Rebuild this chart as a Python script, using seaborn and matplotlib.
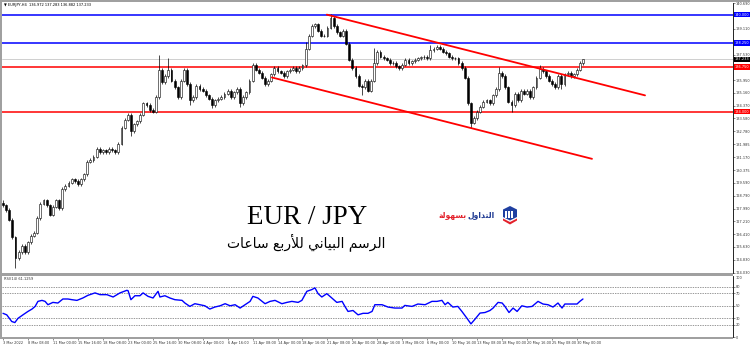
import matplotlib
matplotlib.use("Agg")
import matplotlib.pyplot as plt
import matplotlib.transforms as mtransforms
from matplotlib.patches import Polygon, Rectangle
import numpy as np
import pandas as pd
import seaborn as sns

W, H = 750, 346
sns.set_style("white")
plt.rcParams['font.family'] = ['DejaVu Sans']

# ---------------- data ----------------
closes = [128.2, 127.9, 127.3, 126.2, 124.9, 125.3, 125.7, 125.3, 125.9, 126.3,
          126.5, 127.4, 128.3, 128.5, 128.2, 127.6, 128.1, 128.5, 128.0, 129.2,
          129.4, 129.6, 129.8, 129.7, 129.5, 129.8, 130.1, 130.9, 131.0, 131.2,
          131.7, 131.5, 131.6, 131.5, 131.7, 131.6, 131.5, 132.0, 133.0, 133.5,
          133.8, 132.8, 133.2, 133.4, 133.8, 134.5, 134.4, 134.1, 134.0, 134.9,
          136.6, 135.8, 136.2, 136.6, 135.9, 135.5, 134.9, 135.9, 136.6, 135.7,
          134.7, 134.9, 135.6, 135.4, 135.3, 135.0, 134.8, 134.4, 134.7, 134.8,
          134.9, 135.1, 135.3, 134.9, 135.2, 135.4, 134.5, 134.9, 135.2, 135.9,
          136.9, 136.6, 136.4, 136.1, 135.7, 135.9, 136.3, 136.7, 136.5, 136.4,
          136.2, 136.5, 136.6, 136.7, 136.5, 136.7, 136.85, 137.9, 138.7, 139.3,
          139.4, 139.0, 138.7, 138.7, 139.2, 139.8, 139.3, 138.9, 138.7, 139.0,
          138.2, 137.2, 136.7, 136.2, 135.6, 135.5, 135.9, 135.3, 135.9, 137.0,
          137.7, 137.4, 137.3, 137.2, 137.0, 137.0, 136.8, 136.7, 136.9, 137.2,
          137.0, 137.1, 137.2, 137.3, 137.35, 137.4, 137.3, 137.8, 137.9, 138.0,
          137.9, 137.7, 137.6, 137.4, 137.3, 137.3, 137.0, 136.7, 136.1, 134.5,
          133.3, 133.6, 134.0, 134.3, 134.6, 134.7, 134.5, 135.0, 135.4, 136.4,
          136.2, 135.5, 134.6, 134.4, 135.1, 134.7, 135.3, 135.1, 135.3, 134.9,
          135.5, 136.1, 136.65, 136.5, 136.2, 135.9, 135.7, 135.5, 136.2, 135.7,
          136.3, 136.4, 136.2, 136.3, 136.6, 137.0, 137.23]
first_open = 128.35
hi_idx = [0, 50, 53, 97, 105, 119, 137, 159, 172, 186]
hi_val = [128.5, 137.5, 137.3, 138.3, 140.05, 137.95, 138.1, 136.75, 136.85, 137.28]
lo_idx = [4, 41, 60, 67, 76, 115, 150, 163, 179]
lo_val = [124.3, 132.5, 134.4, 134.2, 134.3, 135.0, 133.0, 134.0, 135.4]
WICK = 0.1

levels_blue = [140.000, 138.250]
levels_red = [136.750, 134.000]
bid_price = 137.233

trend_upper_x = [103.8, 205.8]
trend_upper_y = [140.0, 135.0]
trend_lower_x = [86.2, 188.8]
trend_lower_y = [136.11, 131.07]

price_ticks = [124.030, 124.830, 125.630, 126.410, 127.210, 127.990, 128.790,
               129.590, 130.375, 131.170, 131.985, 132.780, 133.580, 134.370,
               135.160, 135.950, 137.530, 139.110, 140.690]

rsi_idx = [0, 1.2, 2.8, 3.8, 4.8, 6.4, 8, 9.3, 10.3, 11.2,
           12.5, 13.5, 14.4, 16, 17.6, 19.2, 20.8, 22.1, 23.7, 25.6,
           27.2, 29.5, 31.1, 33.3, 35.3, 37.5, 39.7, 40.1, 41, 42.3,
           43.9, 44.9, 46.5, 48.1, 49.7, 50.3, 51.9, 53.5, 55.1, 57.4,
           58.3, 59.9, 61.5, 63.1, 64.7, 66.3, 67.9, 69.6, 71.2, 72.8,
           74.4, 76, 77.6, 79.2, 80.1, 81.7, 84, 85.6, 87.2, 89.4,
           91, 92.6, 94.6, 95.8, 97.4, 99, 100, 101, 102.2, 103.8,
           105.4, 107, 108.7, 109.6, 110.6, 112.2, 113.8, 115.4, 117, 118.3,
           119.2, 121.5, 123.4, 125.6, 127.9, 128.8, 131.1, 133, 135.3, 137.5,
           139.1, 140.7, 141.7, 142.6, 144.2, 145.8, 147.1, 148.7, 150, 151.3,
           152.9, 154.5, 156.1, 157.1, 158.7, 160, 160.9, 162.2, 163.5, 164.8,
           166.3, 168, 169.6, 171.5, 173.1, 174.7, 176.3, 177.9, 179.2, 180.1,
           182.4, 184, 184.9, 185.9]
rsi_val = [38, 35.6, 25, 23.3, 30, 35.6, 41, 44.8, 49, 57,
           58.6, 57, 51.7, 55.4, 54.4, 60.8, 60.8, 59.7, 58.6, 62.4,
           66.6, 70.5, 67.7, 67.7, 64, 70.5, 74.6, 74, 59.7, 66,
           66, 70.5, 65, 62.4, 73, 64, 66, 62.4, 59.7, 58.6,
           54.4, 49, 53.3, 51.7, 50, 44.8, 48, 50, 53.3, 50,
           51.7, 46.4, 51.7, 57, 65, 62.4, 53.3, 57, 58.6, 53.3,
           55.4, 57, 55.4, 58.6, 73, 75.8, 78.5, 69.3, 64, 69.3,
           62.4, 55.4, 57, 49, 41, 42.5, 35.6, 38, 38, 41,
           51.7, 51.7, 48, 46.4, 46.4, 50.6, 49, 52.8, 51.7, 57,
           57, 58.6, 51.7, 55.4, 48, 49, 41, 30.3, 21.2, 28.7,
           38.4, 39.3, 42.5, 46.4, 55.4, 54.4, 49, 39.3, 46.4, 41,
           50, 48, 49, 57, 52.8, 51.7, 48, 54.4, 46.4, 52.8,
           52.8, 52.8, 57, 60.8]
rsi_levels = [80, 70, 50, 30, 20]
rsi_tick_vals = [0, 20, 30, 50, 70, 80]

date_idx = list(range(0, 185, 8))
date_labels = ["3 Mar 2022", "8 Mar 08:00", "11 Mar 00:00", "15 Mar 16:00",
               "18 Mar 08:00", "23 Mar 00:00", "25 Mar 16:00", "30 Mar 08:00",
               "4 Apr 00:00", "6 Apr 16:00", "11 Apr 08:00", "14 Apr 00:00",
               "18 Apr 16:00", "21 Apr 08:00", "26 Apr 00:00", "28 Apr 16:00",
               "3 May 08:00", "6 May 00:00", "10 May 16:00", "13 May 08:00",
               "18 May 00:00", "20 May 16:00", "25 May 08:00", "30 May 00:00"]

title_text = "EUR / JPY"
subtitle_text = "الرسم البياني للأربع ساعات"
logo_word_blue = "التداول"
logo_word_red = "بسهولة"
info_text = "\u25bc EURJPY,H4  136.972 137.283 136.882 137.233"
rsi_text = "RSI(14) 61.1259"

# ---------------- minimal Arabic shaping (presentation forms) ----------------
FORMS = {
    '\u0627': ('\uFE8D', '\uFE8E', None, None),
    '\u0623': ('\uFE83', '\uFE84', None, None),
    '\u0628': ('\uFE8F', '\uFE90', '\uFE91', '\uFE92'),
    '\u062A': ('\uFE95', '\uFE96', '\uFE97', '\uFE98'),
    '\u0629': ('\uFE93', '\uFE94', None, None),
    '\u062F': ('\uFEA9', '\uFEAA', None, None),
    '\u0631': ('\uFEAD', '\uFEAE', None, None),
    '\u0633': ('\uFEB1', '\uFEB2', '\uFEB3', '\uFEB4'),
    '\u0639': ('\uFEC9', '\uFECA', '\uFECB', '\uFECC'),
    '\u0644': ('\uFEDD', '\uFEDE', '\uFEDF', '\uFEE0'),
    '\u0645': ('\uFEE1', '\uFEE2', '\uFEE3', '\uFEE4'),
    '\u0646': ('\uFEE5', '\uFEE6', '\uFEE7', '\uFEE8'),
    '\u0647': ('\uFEE9', '\uFEEA', '\uFEEB', '\uFEEC'),
    '\u0648': ('\uFEED', '\uFEEE', None, None),
    '\u064A': ('\uFEF1', '\uFEF2', '\uFEF3', '\uFEF4'),
}
LAMALEF = {'\u0627': ('\uFEFB', '\uFEFC'), '\u0623': ('\uFEF7', '\uFEF8')}


def shape(s):
    def dual(c):
        return c in FORMS and FORMS[c][2] is not None
    out, i, n = [], 0, len(s)
    while i < n:
        c = s[i]
        if c not in FORMS:
            out.append(c)
            i += 1
            continue
        jp = i > 0 and dual(s[i - 1])
        if c == '\u0644' and i + 1 < n and s[i + 1] in LAMALEF:
            out.append(LAMALEF[s[i + 1]][1 if jp else 0])
            i += 2
            continue
        jn = dual(c) and i + 1 < n and s[i + 1] in FORMS
        iso, fin, ini, med = FORMS[c]
        out.append(med if (jp and jn) else fin if jp else ini if jn else iso)
        i += 1
    return ''.join(reversed(out))


# ---------------- figure layout ----------------
fig = plt.figure(figsize=(W / 100, H / 100), dpi=100)
fig.patch.set_facecolor('white')


def fx(x):
    return x / W


def fy(y):
    return 1 - y / H


X_L, X_R = 2, 733
ax = fig.add_axes([fx(X_L), fy(273), fx(X_R) - fx(X_L), fy(3) - fy(273)])
ax2 = fig.add_axes([fx(X_L), fy(337.2), fx(X_R) - fx(X_L), fy(276) - fy(337.2)])

# gray window frame strips
GRAY = '#a0a0a0'
for (x0, y0, x1, y1) in [(0, 0, 750, 2), (0, 0, 2, 337), (0, 273, 733, 276), (0, 337, 733, 338.5)]:
    fig.patches.append(Rectangle((fx(x0), fy(y1)), fx(x1) - fx(x0), fy(y0) - fy(y1),
                                 transform=fig.transFigure, facecolor=GRAY, edgecolor='none', zorder=5))

xlim = (-0.32, 234.0)
LBL = 2.5

# ---------------- candles ----------------
n = len(closes)
opens = [first_open] + closes[:-1]
df = pd.DataFrame({'i': np.arange(n), 'open': opens, 'close': closes})
df['high'] = df[['open', 'close']].max(axis=1) + WICK
df['low'] = df[['open', 'close']].min(axis=1) - WICK
for k, v in zip(hi_idx, hi_val):
    df.loc[k, 'high'] = max(v, max(df.loc[k, 'open'], df.loc[k, 'close']))
for k, v in zip(lo_idx, lo_val):
    df.loc[k, 'low'] = min(v, min(df.loc[k, 'open'], df.loc[k, 'close']))

# horizontal levels
for lv in levels_blue:
    ax.axhline(lv, color='#0000ff', lw=1.1, zorder=1)
for lv in levels_red:
    ax.axhline(lv, color='#ff0000', lw=1.1, zorder=1)
ax.axhline(bid_price, color='#c8c8c8', lw=0.6, zorder=1)

ax.vlines(df['i'], df['low'], df['high'], color='black', lw=0.5, zorder=2)
up = df['close'] >= df['open']
ax.bar(df['i'][up], (df['close'] - df['open'])[up], bottom=df['open'][up], width=0.6,
       color='white', edgecolor='black', linewidth=0.4, zorder=3)
ax.bar(df['i'][~up], (df['open'] - df['close'])[~up], bottom=df['close'][~up], width=0.6,
       color='black', edgecolor='black', linewidth=0.4, zorder=3)

# trend channel lines
sns.lineplot(x=trend_upper_x, y=trend_upper_y, ax=ax, color='#ff0000', lw=1.3, zorder=4)
sns.lineplot(x=trend_lower_x, y=trend_lower_y, ax=ax, color='#ff0000', lw=1.3, zorder=4)

ax.set_xlim(*xlim)
ax.set_ylim(124.0, 140.72)
ax.set_xticks([])
ax.yaxis.tick_right()
ax.set_yticks(price_ticks)
ax.set_yticklabels([f"{t:.3f}" for t in price_ticks])
ax.tick_params(axis='y', which='both', length=1.5, width=0.4, pad=0.4, labelsize=LBL,
               colors='#333333', right=True, left=False)
ax.set_xlabel('')
ax.set_ylabel('')
for side in ['left', 'top', 'bottom']:
    ax.spines[side].set_visible(False)
ax.spines['right'].set_color('black')
ax.spines['right'].set_linewidth(0.6)

# level labels on price axis
trans = mtransforms.blended_transform_factory(ax.transAxes, ax.transData)
for lv, colr in [(levels_blue[0], '#0000ff'), (levels_blue[1], '#0000ff'),
                 (bid_price, '#000000'), (levels_red[0], '#ff0000'), (levels_red[1], '#ff0000')]:
    ax.text(1.0028, lv, f"{lv:.3f}", transform=trans, fontsize=LBL, color='white',
            ha='left', va='center', zorder=10, clip_on=False,
            bbox=dict(facecolor=colr, edgecolor='none', pad=0.5))

# ---------------- RSI panel ----------------
for lv in rsi_levels:
    ax2.axhline(lv, color='#707070', lw=0.5, ls=(0, (2, 1.5)), zorder=1)
sns.lineplot(x=rsi_idx, y=rsi_val, ax=ax2, color='#0000ff', lw=1.0, estimator=None, zorder=3)
ax2.set_xlim(*xlim)
ax2.set_ylim(0, 97.4)
ax2.yaxis.tick_right()
ax2.set_yticks(rsi_tick_vals)
ax2.set_yticklabels([str(v) for v in rsi_tick_vals])
ax2.tick_params(axis='y', length=1.5, width=0.4, pad=0.4, labelsize=LBL, colors='#333333',
                right=True, left=False)
ax2.set_xticks(date_idx)
ax2.set_xticklabels(date_labels, ha='left')
ax2.tick_params(axis='x', length=2, width=0.4, pad=1, labelsize=2.5, colors='#333333',
                bottom=True, direction='out')
ax2.set_xlabel('')
ax2.set_ylabel('')
for side in ['left', 'top', 'bottom']:
    ax2.spines[side].set_visible(False)
ax2.spines['right'].set_color('black')
ax2.spines['right'].set_linewidth(0.6)
ax2.text(1.004, 1.0, "100", transform=ax2.transAxes, fontsize=LBL, color='#333333',
         ha='left', va='top', clip_on=False)

# ---------------- overlay (texts, logo) ----------------
ov = fig.add_axes([0, 0, 1, 1], zorder=20)
ov.set_xlim(0, W)
ov.set_ylim(H, 0)
ov.axis('off')
ov.patch.set_alpha(0)

ov.text(4, 5, info_text, fontsize=2.6, color='black', ha='left', va='center')
ov.text(4, 279.5, rsi_text, fontsize=2.6, color='#333333', ha='left', va='center')

ov.text(307, 218, title_text, family='Liberation Serif', fontsize=19.5, color='black',
        ha='center', va='center')
ov.text(306, 242, shape(subtitle_text), family='DejaVu Sans', fontsize=10, color='black',
        ha='center', va='center')

ov.text(467, 215, shape(logo_word_red), family='DejaVu Sans', fontsize=5.5, color='#e3202a',
        ha='right', va='center', fontweight='bold')
ov.text(468, 215, shape(logo_word_blue), family='DejaVu Sans', fontsize=5.5, color='#1f3a93',
        ha='left', va='center', fontweight='bold')

# logo icon
ov.add_patch(Polygon([(510, 206), (517, 209.5), (517, 217), (510, 220.5), (503, 217), (503, 209.5)],
                     closed=True, facecolor='#1f3fa0', edgecolor='none'))
for bx in [505.3, 508.3, 511.3]:
    ov.add_patch(Rectangle((bx, 211), 1.6, 7, facecolor='white', edgecolor='none'))
ov.add_patch(Polygon([(503, 218.5), (510, 222), (517, 218.5), (517, 220.5), (510, 224.5), (503, 220.5)],
                     closed=True, facecolor='#e3202a', edgecolor='none'))

fig.savefig('out.png', dpi=100, facecolor='white')
